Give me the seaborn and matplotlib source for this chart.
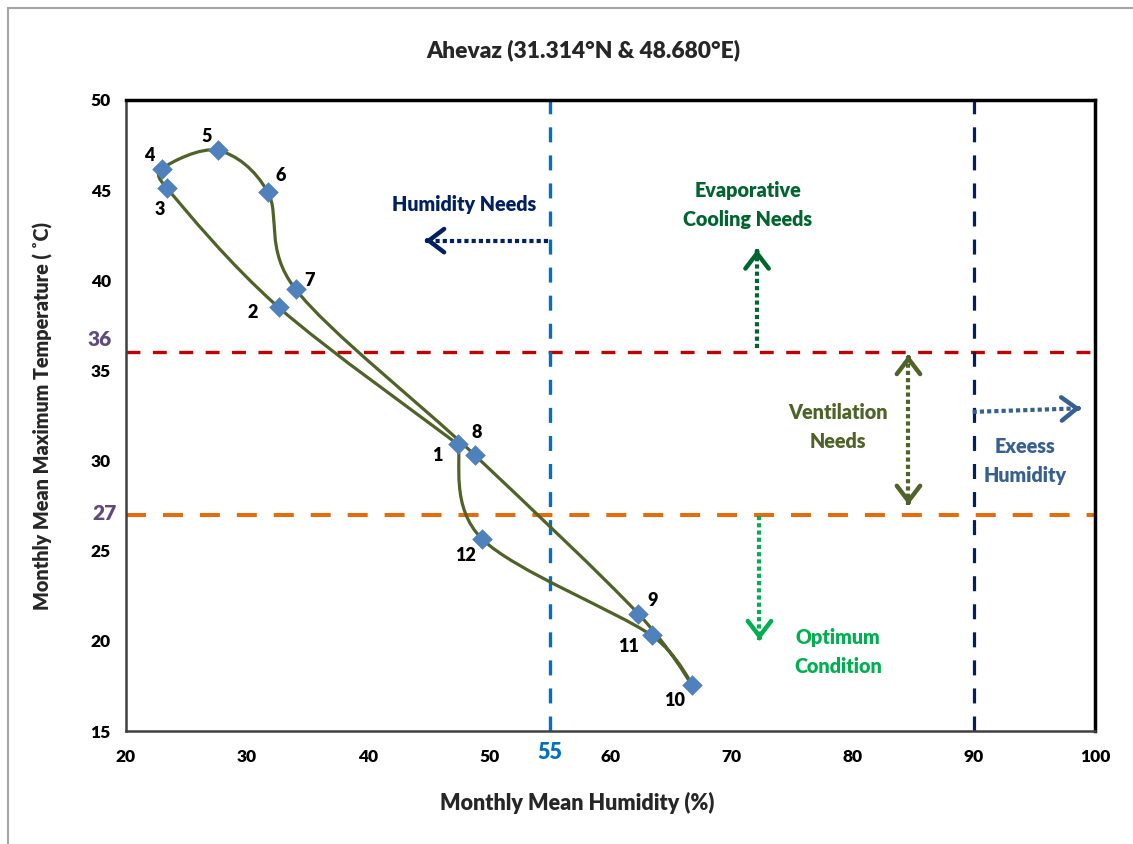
import numpy as np
import matplotlib
matplotlib.use('Agg')
import matplotlib.pyplot as plt
from matplotlib.path import Path
from matplotlib.patches import PathPatch, Rectangle
import matplotlib.transforms as mtransforms
import seaborn as sns

# monthly means for Ahevaz
months = ['1', '2', '3', '4', '5', '6', '7', '8', '9', '10', '11', '12']
humidity = [47.4, 32.6, 23.4, 23.0, 27.6, 31.7, 34.0, 48.8, 62.3, 66.7, 63.4, 49.4]
temperature = [30.9, 38.5, 45.1, 46.2, 47.2, 44.9, 39.5, 30.3, 21.5, 17.55, 20.3, 25.65]

# comfort limits
t_upper, t_lower = 36, 27
rh_low, rh_high = 55, 90

x_ticks = np.arange(20, 101, 5)
y_ticks = np.arange(15, 50.1, 2.5)

# month label offsets in pixels (right, down)
label_offsets = [(-21, 11), (-26, 5), (-7, 21), (-13, -13), (-11, -14), (13, -16),
                 (14, -9), (2, -23), (14, -13), (-17, 15), (-23, 11), (-17, 17)]

BOLD = 800  # Lato heavy looks closest to Calibri bold

sns.set_theme(style='white')
plt.rcParams['font.family'] = ['Lato', 'DejaVu Sans']
plt.rcParams['lines.scale_dashes'] = False

fig = plt.figure(figsize=(11.33, 8.44), dpi=100)
ax = fig.add_axes([126 / 1133, 1 - 731 / 844, 969 / 1133, 631 / 844])

# Excel-like smoothed line through the months, closed back to January
# (control points worked out in screen proportions, limited to half a segment)
scale = np.array([969 / 80, 631 / 35])
pts = np.column_stack([humidity + humidity[:1], temperature + temperature[:1]]) * scale
ext = np.vstack([pts[0], pts, pts[-1]])


def limit(v, seg):
    n = np.hypot(*v)
    cap = 0.5 * seg
    return v if n <= cap or n == 0 else v * cap / n


verts = [pts[0]]
codes = [Path.MOVETO]
for i in range(len(pts) - 1):
    p0, p1, p2, p3 = ext[i], ext[i + 1], ext[i + 2], ext[i + 3]
    seg = np.hypot(*(p2 - p1))
    verts += [p1 + limit((p2 - p0) / 6, seg), p2 - limit((p3 - p1) / 6, seg), p2]
    codes += [Path.CURVE4] * 3
verts = np.array(verts) / scale
ax.add_patch(PathPatch(Path(verts, codes), fill=False, edgecolor='#4F6228', lw=2.3, zorder=3))

sns.scatterplot(x=humidity, y=temperature, marker='D', s=110, color='#4F81BD',
                linewidth=0, zorder=5, ax=ax)

for m, x, y, (dx, dy) in zip(months, humidity, temperature, label_offsets):
    ax.annotate(m, (x, y), xytext=(dx, -dy), textcoords='offset pixels', ha='center',
                va='center', fontsize=13, fontweight=BOLD, color='black', zorder=6)

# limit lines
ax.axhline(t_upper, color='#C00000', lw=2.4, dashes=(10, 9), zorder=2)
ax.axhline(t_lower, color='#E46C0A', lw=2.9, dashes=(14.4, 12.2), zorder=2)
ax.axvline(rh_low, color='#0070C0', lw=2.4, dashes=(10.8, 9.4), zorder=2)
ax.axvline(rh_high, color='#002060', lw=2.3, dashes=(10.8, 9.4), zorder=2)


def head(x0, y0, x1, y1, color):
    ax.annotate('', xy=(x1, y1), xytext=(x1 - (x1 - x0) * 0.02, y1 - (y1 - y0) * 0.02),
                arrowprops=dict(arrowstyle='->,head_length=0.55,head_width=0.42', lw=3.2,
                                color=color, mutation_scale=20, shrinkA=0, shrinkB=0),
                zorder=4)


def dotted_arrow(x0, y0, x1, y1, color, both=False):
    ax.plot([x0, x1], [y0, y1], color=color, lw=3, linestyle=(0, (3, 2.2)),
            dash_capstyle='butt', zorder=4)
    head(x0, y0, x1, y1, color)
    if both:
        head(x1, y1, x0, y0, color)


dotted_arrow(54.8, 42.2, 44.7, 42.2, '#002060')
dotted_arrow(72.1, 36.25, 72.1, 41.7, '#00642F')
dotted_arrow(84.6, 27.55, 84.6, 35.85, '#4F6228', both=True)
dotted_arrow(89.9, 32.7, 98.8, 32.9, '#376092')
dotted_arrow(72.3, 26.9, 72.3, 20.05, '#00B050')

zone_font = dict(fontsize=14.2, fontweight=BOLD, ha='center', va='center', linespacing=1.62)
ax.text(47.9, 44.2, 'Humidity Needs', color='#002060', **zone_font)
ax.text(71.35, 44.2, 'Evaporative\nCooling Needs', color='#00642F', **zone_font)
ax.text(78.8, 31.86, 'Ventilation\nNeeds', color='#4F6228', **zone_font)
ax.text(94.2, 29.98, 'Exeess\nHumidity', color='#376092', **zone_font)
ax.text(78.8, 19.4, 'Optimum\nCondition', color='#00B050', **zone_font)

ax.set_xlim(20, 100)
ax.set_ylim(15, 50)
ax.set_xticks(x_ticks)
ax.set_xticklabels([str(int(v)) if v % 10 == 0 else '' for v in x_ticks])
ax.set_yticks(y_ticks)
ax.set_yticklabels([str(int(v)) if v % 5 == 0 else '' for v in y_ticks])
ax.tick_params(direction='in', length=4, width=1, color='#808080', labelsize=12.5,
               labelcolor='black')
ax.tick_params(axis='x', pad=13)
ax.tick_params(axis='y', pad=11)
for lab in ax.get_xticklabels() + ax.get_yticklabels():
    lab.set_fontweight(BOLD)

for side in ['left', 'bottom']:
    ax.spines[side].set_color('#404040')
    ax.spines[side].set_linewidth(1.8)
for side in ['top', 'right']:
    ax.spines[side].set_color('black')
    ax.spines[side].set_linewidth(2.5)

# highlighted limit values on the axes
ytrans = mtransforms.blended_transform_factory(ax.transAxes, ax.transData)
ax.text(-0.0145, 36.69, '36', transform=ytrans, ha='right', va='center', fontsize=15,
        fontweight=BOLD, color='#604A7B')
ax.text(-0.0093, 27.05, '27', transform=ytrans, ha='right', va='center', fontsize=15,
        fontweight=BOLD, color='#604A7B')
xtrans = mtransforms.blended_transform_factory(ax.transData, ax.transAxes)
ax.text(55, -0.0333, '55', transform=xtrans, ha='center', va='center', fontsize=15.5,
        fontweight=BOLD, color='#0070C0')

fig.text(583 / 1133, 1 - 50 / 844, 'Ahevaz (31.314°N & 48.680°E)', ha='center', va='center',
         fontsize=16.4, fontweight=BOLD)
fig.text(577 / 1133, 1 - 803 / 844, 'Monthly Mean Humidity (%)', ha='center', va='center',
         fontsize=15.5, fontweight=BOLD)
fig.text(43 / 1133, 1 - 416 / 844, 'Monthly Mean Maximum Temperature ( ˚C)', ha='center',
         va='center', rotation=90, fontsize=14.2, fontweight=BOLD)

fig.add_artist(Rectangle((8 / 1133, -1), 2, 2 - 8 / 844, transform=fig.transFigure,
                         fill=False, edgecolor='#A6A6A6', lw=1.5, clip_on=False))

fig.savefig('out.png', dpi=100)
